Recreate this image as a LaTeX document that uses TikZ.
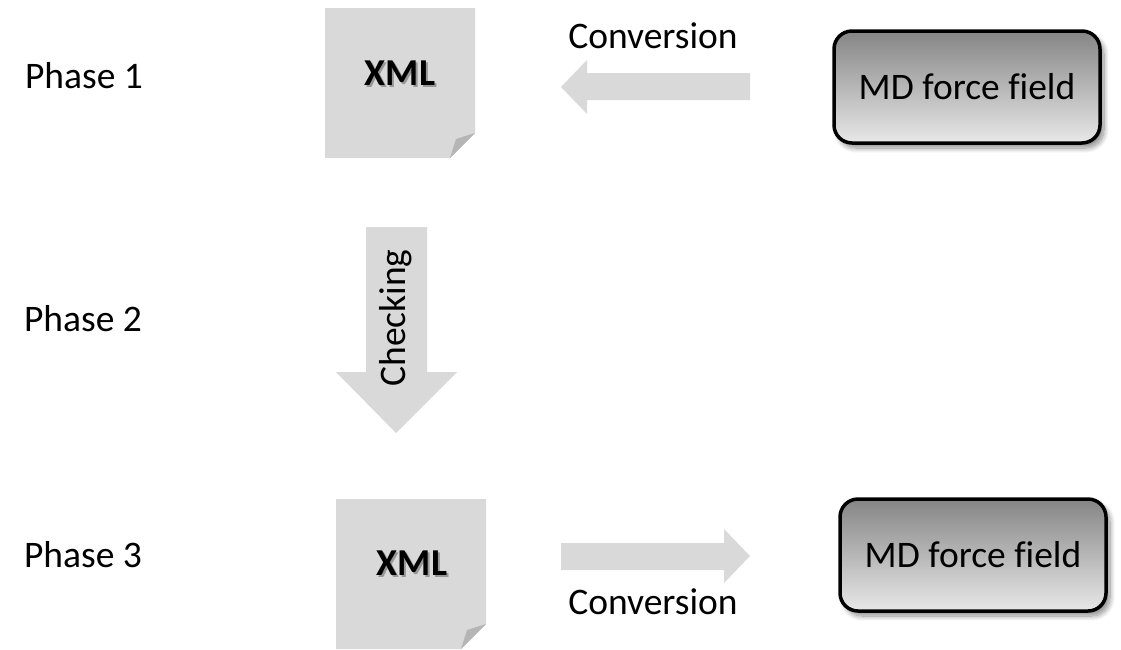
\documentclass[tikz,border=0pt]{standalone}
\usepackage{fontspec}
\setmainfont[Ligatures=NoCommon]{Carlito}
\usetikzlibrary{shadows,shadows.blur}
\definecolor{pale}{HTML}{D9D9D9}
\definecolor{fold}{HTML}{B5B5B5}
\definecolor{gradtop}{HTML}{858585}
\definecolor{gradbot}{HTML}{E8E8E8}
\tikzset{
  x=1pt,y=-1pt,
  phase/.style={font=\fontsize{37.5}{45}\selectfont,text=black,inner sep=0pt},
  boxlabel/.style={font=\fontsize{37.5}{45}\selectfont,text=black,inner sep=0pt},
  mdbox/.style={draw=black,line width=3.5pt,rounded corners=18pt,top color=gradtop,bottom color=gradbot,minimum width=266pt,minimum height=112pt,inner sep=0pt,font=\fontsize{37.5}{45}\selectfont,
    blur shadow={shadow xshift=4pt,shadow yshift=-5pt,shadow blur radius=5pt,shadow blur steps=10,shadow opacity=45}},
  noteface/.style={fill=pale,draw=none},
  notefold/.style={fill=fold,draw=none},
  xmltext/.style={font=\fontsize{38}{45}\selectfont\bfseries,inner sep=0pt},
  xmlshade/.style={xmltext,text=black,opacity=0.3},
  flow/.style={fill=pale,draw=none}
}
\begin{document}
\begin{tikzpicture}
\useasboundingbox (0,0) rectangle (1121,649);
\node[phase] (p1) at (84,76) {Phase 1};
\node[phase] (p2) at (83,319) {Phase 2};
\node[phase] (p3) at (83,555) {Phase 3};
\fill[noteface] (325,8) -- (475,8) -- (475,133) -- (450,158) -- (325,158) -- cycle;
\fill[notefold] (475,133) -- (450,158) -- (456,139) -- cycle;
\node[xmlshade] (x1s) at (402,75) {XML};
\node[xmltext] (x1) at (400,73) {XML};
\fill[noteface] (336,499) -- (486,499) -- (486,624) -- (461,649) -- (336,649) -- cycle;
\fill[notefold] (486,624) -- (461,649) -- (467,630) -- cycle;
\node[xmlshade] (x2s) at (414,565) {XML};
\node[xmltext] (x2) at (412,563) {XML};
\fill[flow] (750,73) -- (587,73) -- (587,60) -- (561,87) -- (587,114) -- (587,100) -- (750,100) -- cycle;
\fill[flow] (561,543) -- (724,543) -- (724,529) -- (750,556) -- (724,583) -- (724,570) -- (561,570) -- cycle;
\fill[flow] (366,227) -- (427,227) -- (427,372) -- (457,372) -- (396,433) -- (336,372) -- (366,372) -- cycle;
\node[boxlabel] (c1) at (653,36) {Conversion};
\node[boxlabel] (c2) at (653,602) {Conversion};
\node[boxlabel,rotate=90] (c3) at (396,318) {Checking};
\node[mdbox] (m1) at (967,87) {MD force field};
\node[mdbox] (m2) at (973,555) {MD force field};
\end{tikzpicture}
\end{document}
